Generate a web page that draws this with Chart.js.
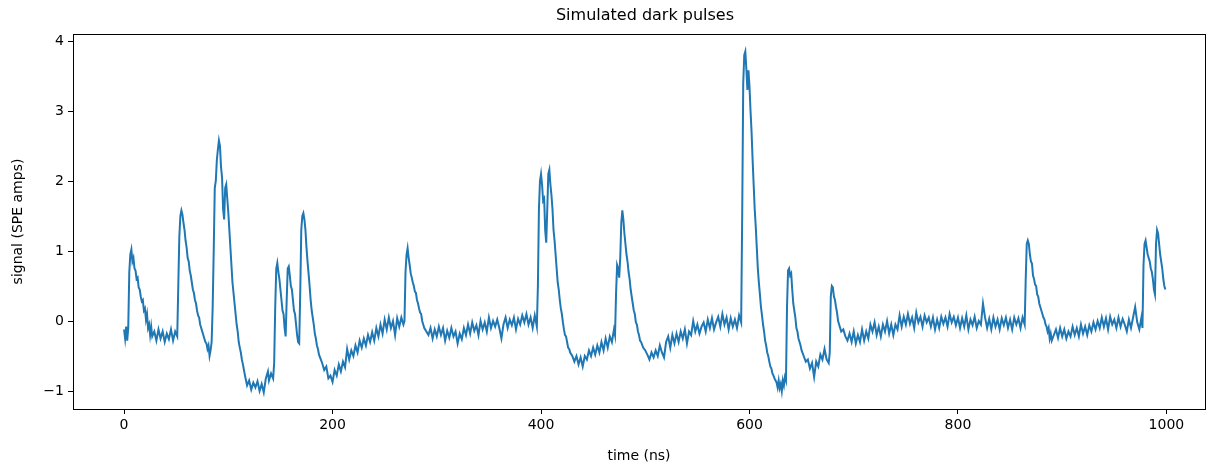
<!DOCTYPE html>
<html>
<head>
<meta charset="utf-8">
<script src="https://cdn.jsdelivr.net/npm/chart.js@4/dist/chart.umd.min.js"></script>
<style>
  html, body { margin: 0; padding: 0; background: #fff; overflow: hidden; }
</style>
</head>
<body>
<canvas id="myChart" width="1207" height="465"></canvas>
<script>
// sample times (ns)
const timeNs = [
  0, 1, 2, 3, 4, 5, 6, 7, 8, 9, 10, 11, 12, 13, 14, 15, 16, 17, 18, 19, 20, 21, 22, 23, 24, 25, 26, 27, 29, 31, 33, 35, 37, 39, 41, 43, 45, 47, 49, 51,
  52, 53, 54, 55, 56, 57, 58, 59, 60, 61, 62, 63, 64, 65, 66, 67, 68, 69, 70, 71, 72, 73, 74, 75, 76, 77, 78, 79, 80, 81, 82, 83, 84,
  85, 86, 87, 88, 89, 90, 91, 92, 93, 94, 95, 96, 97, 98, 99, 100, 101, 102, 103, 104, 105, 106, 107, 108, 109, 110, 111, 112, 113, 114, 115, 116, 117, 118, 120, 122, 124, 126, 128, 130, 132, 134, 136, 138, 139, 141, 143, 144,
  145, 146, 147, 148, 149, 150, 151, 152, 153, 154, 155, 156, 157, 158, 159, 160, 161, 162, 163, 164, 165, 166, 167, 168,
  169, 170, 171, 172, 173, 174, 175, 176, 177, 178, 179, 180, 181, 182, 183, 184, 185, 186, 187, 188, 190, 192, 194, 196, 198, 200, 202, 204, 206, 208, 210, 212, 214, 216, 218, 220, 222, 224, 226, 228, 230, 232, 234, 236, 238, 240, 242, 244, 246, 248, 250, 252, 254, 256, 258, 260, 262, 264, 266, 268, 269,
  270, 271, 272, 273, 274, 275, 276, 277, 278, 279, 280, 281, 282, 283, 284, 285, 286, 287, 288, 290, 292, 294, 296, 298, 300, 302, 304, 306, 308, 310, 312, 314, 316, 318, 320, 322, 324, 326, 328, 330, 332, 334, 336, 338, 340, 342, 344, 346, 348, 350, 352, 354, 356, 358, 360, 362, 364, 366, 368, 370, 372, 374, 376, 378, 380, 382, 384, 386, 388, 390, 392, 394, 396,
  397, 398, 399, 400, 401, 402, 403, 404, 405, 406, 407, 408, 409, 410, 411, 412, 413, 414, 415, 416, 417, 418, 419, 420, 421, 422, 423, 424, 425, 426, 427, 428, 430, 432, 434, 436, 438, 440, 442, 444, 446, 448, 450, 452, 454, 456, 458, 460, 462, 464, 466, 468, 470, 471,
  472, 473, 474, 475, 476, 477, 478, 479, 480, 481, 482, 483, 484, 485, 486, 487, 488, 489, 490, 491, 492, 493, 494, 495, 496, 498, 500, 502, 504, 506, 508, 510, 512, 514, 516, 518, 520, 522, 524, 526, 528, 530, 532, 534, 536, 538, 540, 542, 544, 546, 548, 550, 552, 554, 556, 558, 560, 562, 564, 566, 568, 570, 572, 574, 576, 578, 580, 582, 584, 586, 588, 590, 592,
  593, 594, 595, 596, 597, 598, 599, 600, 601, 602, 603, 604, 605, 606, 607, 608, 609, 610, 611, 612, 613, 614, 615, 616, 617, 618, 619, 620, 621, 622, 623, 624, 625, 626, 627, 628, 629, 630, 631, 632, 633, 634, 635,
  636, 637, 638, 639, 640, 641, 642, 643, 644, 645, 646, 647, 648, 649, 650, 652, 654, 656, 658, 660, 662, 664, 666, 668, 670, 672, 674, 676, 677,
  678, 679, 680, 681, 682, 683, 684, 685, 686, 687, 688, 690, 692, 694, 696, 698, 700, 702, 704, 706, 708, 710, 712, 714, 716, 718, 720, 722, 724, 726, 728, 730, 732, 734, 736, 738, 740, 742, 744, 746, 748, 750, 752, 754, 756, 758, 760, 762, 764, 766, 768, 770, 772, 774, 776, 778, 780, 782, 784, 786, 788, 790, 792, 794, 796, 798, 800, 802, 804, 806, 808, 810, 812, 814, 816, 818, 820, 822, 824, 826, 828, 830, 832, 834, 836, 838, 840, 842, 844, 846, 848, 850, 852, 854, 856, 858, 860, 862, 864,
  865, 866, 867, 868, 869, 870, 871, 872, 873, 874, 875, 876, 877, 878, 879, 880, 881, 882, 883, 884, 885, 886, 887, 888, 889, 890, 892, 894, 896, 898, 900, 902, 904, 906, 908, 910, 912, 914, 916, 918, 920, 922, 924, 926, 928, 930, 932, 934, 936, 938, 940, 942, 944, 946, 948, 950, 952, 954, 956, 958, 960, 962, 964, 966, 968, 970, 972, 974, 976, 977,
  978, 979, 980, 981, 982, 983, 984, 985, 986, 987, 988, 989, 990, 991, 992, 993, 994, 995, 996, 997, 998, 999
]

// signal (SPE amps) at those times
const signal = [
  -0.12, -0.25, -0.08, -0.28, -0.1, 0.7, 0.95, 1.02, 0.85, 0.9, 0.75, 0.72, 0.6, 0.62, 0.48, 0.45, 0.35, 0.28, 0.3, 0.15, 0.18, 0.02, 0.1, -0.1, -0.05, -0.2, -0.08, -0.22, -0.15, -0.28, -0.12, -0.25, -0.15, -0.3, -0.18, -0.26, -0.12, -0.28, -0.15, -0.22,
  0.5, 1.2, 1.5, 1.58, 1.52, 1.4, 1.3, 1.15, 1.05, 0.9, 0.85, 0.72, 0.65, 0.55, 0.45, 0.4, 0.3, 0.25, 0.15, 0.08, 0.05, -0.05, -0.1, -0.15, -0.2, -0.25, -0.3, -0.32, -0.4, -0.35, -0.5, -0.42, -0.3,
  0.2, 1.0, 1.9, 2.0, 2.3, 2.45, 2.58, 2.5, 2.2, 2.05, 1.6, 1.45, 1.9, 1.95, 1.75, 1.55, 1.3, 1.05, 0.8, 0.55, 0.4, 0.25, 0.1, -0.05, -0.15, -0.3, -0.38, -0.45, -0.55, -0.62, -0.7, -0.78, -0.85, -0.92, -0.85, -0.98, -0.88, -0.95, -0.86, -1.0, -0.9, -1.02, -0.82, -0.72, -0.85, -0.75, -0.82, -0.6,
  0.2, 0.75, 0.83, 0.7, 0.6, 0.45, 0.3, 0.15, 0.1, -0.1, -0.22, 0.3, 0.75, 0.78, 0.65, 0.5, 0.45, 0.3, 0.15, 0.1, -0.05, -0.2, -0.3, -0.32,
  0.4, 1.3, 1.5, 1.54, 1.45, 1.3, 1.05, 0.85, 0.68, 0.5, 0.3, 0.15, 0.05, -0.05, -0.18, -0.25, -0.35, -0.4, -0.48, -0.52, -0.6, -0.7, -0.65, -0.82, -0.78, -0.87, -0.7, -0.78, -0.62, -0.72, -0.58, -0.66, -0.4, -0.55, -0.42, -0.5, -0.35, -0.45, -0.28, -0.38, -0.25, -0.35, -0.2, -0.3, -0.16, -0.28, -0.1, -0.22, -0.05, -0.18, 0.02, -0.12, 0.05, -0.1, 0.0, -0.2, 0.04, -0.08, 0.05, -0.05, 0.0,
  0.7, 0.95, 1.04, 0.9, 0.8, 0.68, 0.62, 0.55, 0.5, 0.42, 0.4, 0.3, 0.25, 0.18, 0.12, 0.1, 0.0, -0.05, -0.1, -0.15, -0.2, -0.1, -0.25, -0.12, -0.22, -0.08, -0.2, -0.1, -0.28, -0.14, -0.24, -0.1, -0.22, -0.15, -0.32, -0.18, -0.26, -0.1, -0.2, -0.05, -0.18, -0.02, -0.14, -0.06, -0.2, 0.0, -0.12, -0.02, -0.15, 0.05, -0.1, 0.0, -0.08, 0.02, -0.1, -0.25, -0.05, 0.05, -0.1, 0.02, -0.06, 0.05, -0.12, 0.03, -0.05, 0.08, -0.02, 0.1, -0.05, 0.05, -0.1, 0.08, -0.08,
  0.5, 1.6, 2.0, 2.1, 1.95, 1.72, 1.75, 1.3, 1.12, 1.6, 2.1, 2.16, 1.95, 1.8, 1.6, 1.3, 1.15, 0.95, 0.75, 0.55, 0.45, 0.3, 0.18, 0.1, -0.02, -0.12, -0.2, -0.22, -0.3, -0.38, -0.4, -0.45, -0.5, -0.58, -0.5, -0.62, -0.52, -0.65, -0.5, -0.55, -0.42, -0.5, -0.38, -0.48, -0.35, -0.45, -0.3, -0.42, -0.25, -0.38, -0.22, -0.3, -0.12, -0.2,
  0.4, 0.8, 0.75, 0.62, 0.9, 1.4, 1.58, 1.45, 1.25, 1.1, 0.95, 0.85, 0.7, 0.6, 0.45, 0.35, 0.25, 0.15, 0.1, -0.02, -0.05, -0.15, -0.2, -0.28, -0.3, -0.38, -0.42, -0.48, -0.55, -0.45, -0.52, -0.42, -0.5, -0.35, -0.45, -0.52, -0.3, -0.22, -0.38, -0.2, -0.32, -0.18, -0.3, -0.15, -0.25, -0.12, -0.32, -0.15, -0.2, 0.0, -0.15, -0.05, -0.18, -0.08, -0.02, -0.15, 0.02, -0.1, 0.04, -0.12, -0.02, 0.06, -0.08, 0.1, -0.05, 0.05, -0.12, 0.04, -0.08, 0.02, -0.1, 0.08, -0.02,
  1.5, 3.4, 3.8, 3.85, 3.6, 3.3, 3.58, 3.35, 3.0, 2.7, 2.3, 1.95, 1.6, 1.35, 1.05, 0.75, 0.55, 0.38, 0.2, 0.08, -0.05, -0.15, -0.28, -0.35, -0.45, -0.5, -0.58, -0.65, -0.68, -0.75, -0.78, -0.82, -0.85, -0.88, -0.95, -0.85, -0.96, -0.9, -1.0, -0.85, -0.92, -0.8, -0.85,
  0.2, 0.72, 0.75, 0.65, 0.68, 0.45, 0.25, 0.15, 0.05, -0.1, -0.15, -0.25, -0.3, -0.35, -0.42, -0.5, -0.58, -0.55, -0.68, -0.6, -0.8, -0.58, -0.65, -0.48, -0.55, -0.4, -0.55, -0.6, -0.45,
  0.35, 0.5, 0.48, 0.35, 0.3, 0.2, 0.12, 0.0, -0.05, -0.1, -0.15, -0.12, -0.22, -0.28, -0.18, -0.3, -0.15, -0.32, -0.2, -0.3, -0.12, -0.28, -0.15, -0.25, -0.05, -0.15, -0.02, -0.2, -0.08, -0.22, -0.05, -0.15, 0.0, -0.18, -0.05, -0.2, -0.05, -0.12, 0.08, -0.08, 0.06, -0.05, 0.1, -0.04, 0.05, -0.1, 0.12, -0.02, 0.06, -0.08, 0.08, -0.02, 0.05, -0.08, 0.05, -0.12, 0.02, -0.1, 0.06, -0.04, 0.05, -0.08, 0.1, -0.02, 0.06, -0.06, 0.05, -0.1, 0.04, -0.08, 0.08, -0.12, 0.02, -0.06, 0.06, -0.1, 0.0, -0.05, 0.25, 0.05, -0.1, 0.03, -0.12, 0.05, -0.08, 0.02, -0.12, 0.04, -0.06, 0.05, -0.1, 0.02, -0.12, 0.05, -0.05, 0.04, -0.1, 0.05, -0.05,
  0.6, 1.1, 1.15, 1.1, 0.95, 0.85, 0.82, 0.65, 0.6, 0.52, 0.5, 0.38, 0.35, 0.25, 0.2, 0.15, 0.1, 0.05, 0.02, -0.05, -0.08, -0.15, -0.1, -0.25, -0.18, -0.28, -0.2, -0.12, -0.24, -0.1, -0.22, -0.12, -0.25, -0.15, -0.22, -0.08, -0.2, -0.1, -0.22, -0.05, -0.18, -0.08, -0.2, -0.06, -0.15, -0.02, -0.12, 0.0, -0.1, 0.05, -0.08, 0.04, -0.12, 0.06, -0.05, 0.02, -0.1, 0.05, -0.08, 0.03, -0.05, -0.15, 0.02, -0.1, 0.05, 0.2, -0.02, -0.12, 0.05, -0.1,
  0.8, 1.1, 1.15, 1.05, 0.95, 0.9, 0.85, 0.75, 0.7, 0.6, 0.45, 0.38, 1.1, 1.3, 1.25, 1.1, 0.95, 0.85, 0.75, 0.6, 0.5, 0.45
]

const xTicks = [0, 200, 400, 600, 800, 1000]
const yTicks = [-1, 0, 1, 2, 3, 4]
const titleText = 'Simulated dark pulses'

const points = timeNs.map((t, i) => ({ x: t, y: signal[i] }))

// matplotlib style frame + title centred on the axes (which run past the right edge)
const frame = {
  id: 'frame',
  afterDraw(chart) {
    const { ctx, chartArea: a } = chart
    ctx.save()
    ctx.strokeStyle = '#000'
    ctx.lineWidth = 1
    ctx.strokeRect(Math.round(a.left) + 0.5, Math.round(a.top) + 0.5, Math.round(a.right - a.left), Math.round(a.bottom - a.top))
    ctx.fillStyle = '#000'
    ctx.font = '16px "DejaVu Sans"'
    ctx.textAlign = 'center'
    ctx.textBaseline = 'middle'
    ctx.fillText(titleText, 645, 16)
    ctx.restore()
  }
}

const minus = (v) => String(v).replace('-', '\u2212')
const font = { family: 'DejaVu Sans', size: 14 }

const ctx = document.getElementById('myChart').getContext('2d')
const chart = new Chart(ctx, {
  type: 'line',
  data: {
    datasets: [{
      data: points,
      borderColor: '#1f77b4',
      borderWidth: 2,
      pointRadius: 0,
      tension: 0,
      fill: false
    }]
  },
  options: {
    responsive: false,
    animation: false,
    parsing: false,
    layout: { padding: { left: 0, right: 2, top: 34, bottom: 0 } },
    plugins: {
      legend: { display: false },
      tooltip: { enabled: false },
      title: { display: false }
    },
    scales: {
      x: {
        type: 'linear',
        min: -49,
        max: 1037,
        afterBuildTicks: (s) => { s.ticks = xTicks.map(v => ({ value: v })) },
        afterFit: (s) => { s.height = 56 },
        grid: { drawOnChartArea: false, drawTicks: true, tickLength: 5, color: '#000' },
        border: { display: false },
        ticks: { color: '#000', font, padding: 3, callback: minus },
        title: { display: true, text: 'time (ns)', color: '#000', font, padding: { top: 2, bottom: 0 } }
      },
      y: {
        min: -1.257,
        max: 4.1,
        afterBuildTicks: (s) => { s.ticks = yTicks.map(v => ({ value: v })) },
        afterFit: (s) => { s.width = 73 },
        grid: { drawOnChartArea: false, drawTicks: true, tickLength: 5, color: '#000' },
        border: { display: false },
        ticks: { color: '#000', font, padding: 4, callback: minus },
        title: { display: true, text: 'signal (SPE amps)', color: '#000', font, padding: { top: 10, bottom: 0 } }
      }
    }
  },
  plugins: [frame]
})
</script>
</body>
</html>
